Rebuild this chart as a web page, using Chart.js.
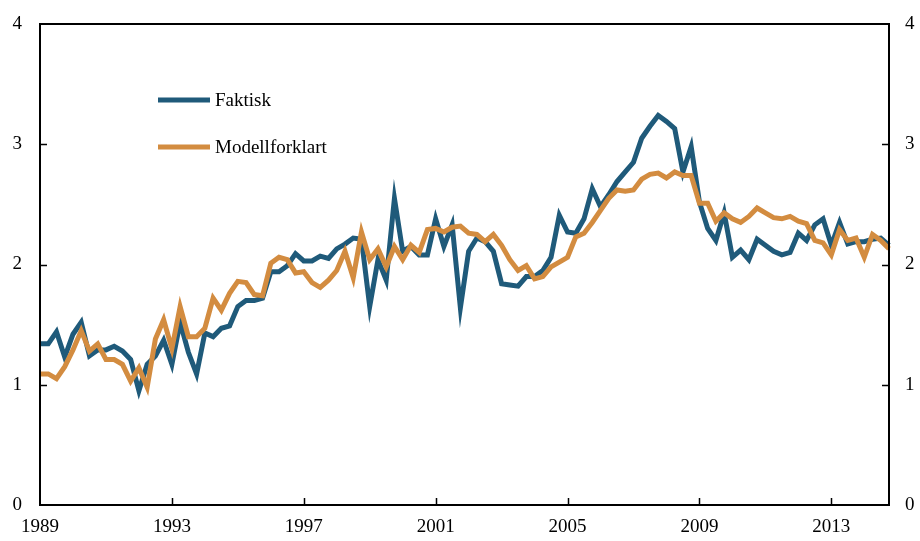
<!DOCTYPE html>
<html>
<head>
<meta charset="utf-8">
<script src="https://cdn.jsdelivr.net/npm/chart.js@4.4.1/dist/chart.umd.min.js"></script>
<style>
  html, body { margin: 0; padding: 0; background: #fff; }
  #wrap { width: 920px; height: 541px; }
</style>
</head>
<body>
<div id="wrap"><canvas id="chart" width="920" height="541"></canvas></div>
<script>
// quarterly periods 1989K1 - 2014K4
const startYear = 1989;
const endYear = 2014;
const quarters = [];
for (let y = startYear; y <= endYear; y++) {
  for (let q = 1; q <= 4; q++) quarters.push(y + 'K' + q);
}

const tickYears = [1989, 1993, 1997, 2001, 2005, 2009, 2013];
const yTicks = [0, 1, 2, 3, 4];

const faktisk = [
  1.34, 1.34, 1.44, 1.23, 1.42, 1.52, 1.24, 1.29, 1.29, 1.32, 1.28, 1.21, 0.95, 1.17, 1.24, 1.37,
  1.17, 1.52, 1.27, 1.09, 1.43, 1.40, 1.47, 1.49, 1.65, 1.70, 1.70, 1.72, 1.94, 1.94, 1.99, 2.09,
  2.03, 2.03, 2.07, 2.05, 2.13, 2.17, 2.22, 2.21, 1.65, 2.04, 1.87, 2.55, 2.11, 2.15, 2.08, 2.08,
  2.38, 2.15, 2.33, 1.64, 2.11, 2.22, 2.19, 2.11, 1.84, 1.83, 1.82, 1.90, 1.90, 1.95, 2.06, 2.41,
  2.27, 2.26, 2.38, 2.63, 2.48, 2.58, 2.69, 2.77, 2.85, 3.05, 3.15, 3.24, 3.19, 3.13, 2.77, 2.98,
  2.52, 2.30, 2.20, 2.43, 2.06, 2.12, 2.04, 2.21, 2.16, 2.11, 2.08, 2.10, 2.26, 2.20, 2.33, 2.38,
  2.16, 2.35, 2.17, 2.19, 2.19, 2.21, 2.22, 2.16
];

const modellforklart = [
  1.09, 1.09, 1.05, 1.15, 1.29, 1.45, 1.28, 1.34, 1.21, 1.21, 1.17, 1.03, 1.14, 0.98, 1.38, 1.54,
  1.30, 1.65, 1.40, 1.40, 1.47, 1.72, 1.62, 1.76, 1.86, 1.85, 1.75, 1.74, 2.01, 2.06, 2.04, 1.93,
  1.94, 1.85, 1.81, 1.87, 1.95, 2.11, 1.89, 2.27, 2.04, 2.13, 1.98, 2.15, 2.04, 2.16, 2.10, 2.29,
  2.30, 2.27, 2.31, 2.32, 2.26, 2.25, 2.19, 2.25, 2.16, 2.04, 1.95, 1.99, 1.88, 1.90, 1.98, 2.02,
  2.06, 2.23, 2.26, 2.35, 2.45, 2.55, 2.62, 2.61, 2.62, 2.71, 2.75, 2.76, 2.72, 2.77, 2.74, 2.74,
  2.51, 2.51, 2.36, 2.43, 2.38, 2.35, 2.40, 2.47, 2.43, 2.39, 2.38, 2.40, 2.36, 2.34, 2.20, 2.18,
  2.08, 2.29, 2.20, 2.22, 2.06, 2.25, 2.20, 2.13
];

const BLUE = '#1f5a7a';
const ORANGE = '#d38c40';
const FONT = '"Liberation Serif", "Times New Roman", serif';

// frame, inward tick marks and the in-plot legend
const framePlugin = {
  id: 'frame',
  afterDraw(chart) {
    const ctx = chart.ctx;
    const a = chart.chartArea;
    const x = chart.scales.x, yl = chart.scales.y, yr = chart.scales.y2;
    const tick = 7;
    ctx.save();
    ctx.strokeStyle = '#000';
    ctx.lineWidth = 2;
    ctx.strokeRect(a.left, a.top, a.right - a.left, a.bottom - a.top);
    ctx.lineWidth = 1.5;
    ctx.beginPath();
    quarters.forEach((q, i) => {
      if (q.endsWith('K1') && tickYears.includes(+q.slice(0, 4)) && i > 0) {
        const px = Math.round(x.getPixelForValue(i)) + 0.5;
        ctx.moveTo(px, a.bottom);
        ctx.lineTo(px, a.bottom - tick);
      }
    });
    yTicks.forEach(v => {
      if (v === 0 || v === 4) return;
      const pl = Math.round(yl.getPixelForValue(v)) + 0.5;
      ctx.moveTo(a.left, pl);
      ctx.lineTo(a.left + tick, pl);
      const pr = Math.round(yr.getPixelForValue(v)) + 0.5;
      ctx.moveTo(a.right, pr);
      ctx.lineTo(a.right - tick, pr);
    });
    ctx.stroke();

    // legend
    const lx = a.left + 118, ly = a.top + 76, gap = 47;
    ctx.font = '19px ' + FONT;
    ctx.textBaseline = 'middle';
    ctx.fillStyle = '#000';
    chart.data.datasets.forEach((ds, k) => {
      const yy = ly + k * gap;
      ctx.strokeStyle = ds.borderColor;
      ctx.lineWidth = 5;
      ctx.beginPath();
      ctx.moveTo(lx, yy);
      ctx.lineTo(lx + 52, yy);
      ctx.stroke();
      ctx.fillText(ds.label, lx + 57, yy + 1);
    });
    ctx.restore();
  }
};

function fitY(width) {
  return s => { s.width = width; s.paddingTop = 0; s.paddingBottom = 0; };
}

new Chart(document.getElementById('chart'), {
  type: 'line',
  data: {
    labels: quarters,
    datasets: [
      { label: 'Faktisk', data: faktisk, borderColor: BLUE, borderWidth: 5, pointRadius: 0, tension: 0, order: 1, yAxisID: 'y' },
      { label: 'Modellforklart', data: modellforklart, borderColor: ORANGE, borderWidth: 5, pointRadius: 0, tension: 0, order: 0, yAxisID: 'y' }
    ]
  },
  options: {
    responsive: false,
    animation: false,
    layout: { padding: { left: 0, right: 0, top: 24, bottom: 0 } },
    plugins: { legend: { display: false }, tooltip: { enabled: false } },
    scales: {
      x: {
        type: 'category',
        offset: false,
        afterFit(s) { s.height = 36; },
        grid: { display: false, drawTicks: false },
        border: { display: false },
        ticks: {
          autoSkip: false,
          maxRotation: 0,
          padding: 11,
          color: '#000',
          font: { family: FONT, size: 19 },
          callback(val, idx) {
            const q = quarters[idx];
            const yr = +q.slice(0, 4);
            return q.endsWith('K1') && tickYears.includes(yr) ? String(yr) : null;
          }
        }
      },
      y: {
        position: 'left',
        min: 0, max: 4,
        afterBuildTicks(s) { s.ticks = yTicks.map(v => ({ value: v })); },
        afterFit: fitY(40),
        grid: { display: false, drawTicks: false },
        border: { display: false },
        ticks: { padding: 18, color: '#000', font: { family: FONT, size: 19 } }
      },
      y2: {
        position: 'right',
        min: 0, max: 4,
        afterBuildTicks(s) { s.ticks = yTicks.map(v => ({ value: v })); },
        afterFit: fitY(31),
        grid: { display: false, drawTicks: false },
        border: { display: false },
        ticks: { padding: 16, color: '#000', font: { family: FONT, size: 19 } }
      }
    }
  },
  plugins: [framePlugin]
});
</script>
</body>
</html>
